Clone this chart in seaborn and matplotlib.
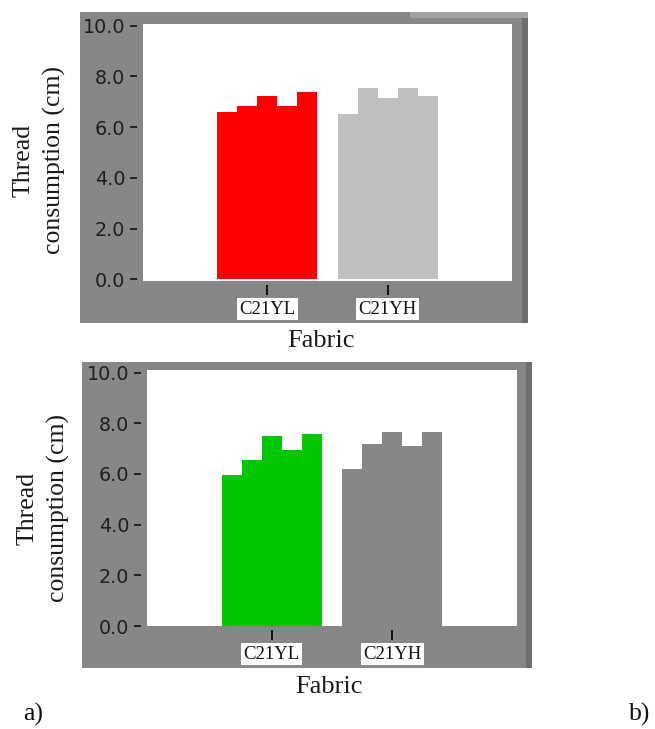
import numpy as np
import pandas as pd
import matplotlib
matplotlib.use("Agg")
import matplotlib.pyplot as plt
import seaborn as sns
from matplotlib.patches import Rectangle

# ---------------- data ----------------
fabrics = ["C21YL", "C21YH"]
runs = ["1", "2", "3", "4", "5"]
a_C21YL = [6.58, 6.83, 7.23, 6.83, 7.37]
a_C21YH = [6.51, 7.53, 7.14, 7.53, 7.22]
b_C21YL = [5.97, 6.54, 7.50, 6.95, 7.58]
b_C21YH = [6.21, 7.19, 7.65, 7.09, 7.65]
yticks = [0, 2, 4, 6, 8, 10]
ytick_labels = ["0.0", "2.0", "4.0", "6.0", "8.0", "10.0"]
colors_a = ["#ff0000", "#c0c0c0"]
colors_b = ["#00c800", "#878787"]

W, H = 655, 729
fig = plt.figure(figsize=(W / 100, H / 100), dpi=100)
fig.patch.set_facecolor("white")

FRAME = "#878787"
SERIF = "Liberation Serif"


def px_rect(x0, y0, x1, y1):
    return [x0 / W, 1 - y1 / H, (x1 - x0) / W, (y1 - y0) / H]


def panel(ax_px, frame_px, vals_l, vals_h, colors, ylim, ylab_xy, xlab_xy, light_top=False):
    fx0, fy0, fx1, fy1 = frame_px
    fr = px_rect(fx0, fy0, fx1, fy1)
    fig.patches.append(Rectangle((fr[0], fr[1]), fr[2], fr[3], transform=fig.transFigure,
                                 facecolor=FRAME, edgecolor="none", zorder=-10))
    # darker right strip
    sr = px_rect(fx1 - 6, fy0, fx1, fy1)
    fig.patches.append(Rectangle((sr[0], sr[1]), sr[2], sr[3], transform=fig.transFigure,
                                 facecolor="#6e6e6e", edgecolor="none", zorder=-9))
    if light_top:
        tr = px_rect(410, fy0, fx1, fy0 + 6)
        fig.patches.append(Rectangle((tr[0], tr[1]), tr[2], tr[3], transform=fig.transFigure,
                                     facecolor="#a2a2a2", edgecolor="none", zorder=-9))

    ax = fig.add_axes(px_rect(*ax_px))
    ax.set_facecolor("white")
    df = pd.DataFrame({
        "Fabric": [fabrics[0]] * len(runs) + [fabrics[1]] * len(runs),
        "run": runs + runs,
        "value": vals_l + vals_h,
    })
    sns.barplot(data=df, x="Fabric", y="value", hue="run", order=fabrics, hue_order=runs,
                palette=["#000000"] * len(runs), width=0.83, saturation=1, linewidth=0,
                legend=False, ax=ax, errorbar=None)
    for cont in ax.containers:
        for i, bar in enumerate(cont):
            bar.set_facecolor(colors[i])
            bar.set_edgecolor("none")
    ax.set_xlim(-1.034, 2.034)
    ax.set_ylim(*ylim)
    ax.set_yticks(yticks)
    ax.set_yticklabels(ytick_labels)
    for s in ax.spines.values():
        s.set_visible(False)
    ax.spines["left"].set_position(("outward", 4.3))
    ax.spines["bottom"].set_position(("outward", 2.9))
    ax.tick_params(axis="y", direction="out", length=5, width=1.2, color="#111111",
                   pad=3.6, labelsize=13.8, labelcolor="#1e1e1e")
    ax.tick_params(axis="x", direction="out", length=7.2, width=1.4, color="#111111",
                   pad=4.2, labelsize=13.5, labelcolor="#111111")
    for lbl in ax.get_yticklabels():
        lbl.set_fontfamily("DejaVu Sans")
    for lbl in ax.get_xticklabels():
        lbl.set_fontfamily(SERIF)
        lbl.set_bbox(dict(facecolor="white", edgecolor="none", pad=1.8))
    ax.set_xlabel("")
    ax.set_ylabel("")
    fig.text(ylab_xy[0] / W, 1 - ylab_xy[1] / H, "Thread\nconsumption (cm)", rotation=90,
             ha="center", va="center", multialignment="center", fontsize=18.5,
             family=SERIF, color="#1a1a1a", linespacing=1.45)
    fig.text(xlab_xy[0] / W, 1 - xlab_xy[1] / H, "Fabric", ha="center", va="center",
             fontsize=19, family=SERIF, color="#1a1a1a")
    return ax


panel((143, 24, 512, 281), (80, 12, 528, 323), a_C21YL, a_C21YH, colors_a,
      (-0.067, 10.07), (39, 160), (321, 341), light_top=True)
panel((147, 370, 517, 626), (82, 362, 532, 668), b_C21YL, b_C21YH, colors_b,
      (0.0, 10.1), (43, 508), (329, 687))

fig.text(33 / W, 1 - 714 / H, "a)", ha="center", va="center", fontsize=18.5, family=SERIF, color="#111111")
fig.text(640 / W, 1 - 714 / H, "b)", ha="center", va="center", fontsize=18.5, family=SERIF, color="#111111")

fig.savefig("out.png", dpi=100, facecolor="white")
